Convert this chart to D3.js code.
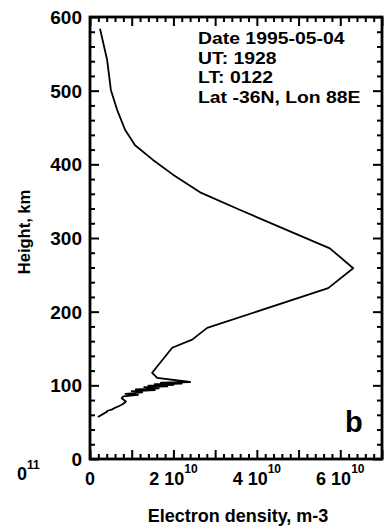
<!DOCTYPE html>
<html><head><meta charset="utf-8">
<script src="https://cdn.jsdelivr.net/npm/d3@7"></script>
<style>
html,body{margin:0;padding:0;background:#fff;}
svg{display:block;font-family:"Liberation Sans",Arial,Helvetica,sans-serif;}
</style></head>
<body><svg id="c" width="385" height="528"></svg>
<script>
// Electron density in units of 1e10 m^-3, height in km
const density = [0.24,0.41,0.50,0.65,0.84,1.08,1.51,1.99,2.64,3.60,5.75,6.31,5.71,2.81,2.45,1.97,1.49,1.61,
  2.40,1.70,2.20,1.55,2.00,1.40,1.85,1.30,1.65,1.10,1.55,1.00,1.25,0.85,1.15,0.80,0.76,0.86,0.80,0.70,0.58,0.52,0.42,0.40,0.19];
const height = [584,542,501,474,447,426,406,386,362,338,286,259,232,178,162,151,117,110,
  104.5,103.5,102.5,101.5,100.5,99.5,98.5,97.5,96,94.5,93.5,92,90.5,88.5,87,85,82.5,78,75,72,69,67,65.5,64,57];
const xLabelValues = [0, 2, 4, 6];
const xLabelMain = ["0", "2 10", "4 10", "6 10"];
const xLabelSup = ["", "10", "10", "10"];
const yLabelValues = [0, 100, 200, 300, 400, 500, 600];
const infoLines = ["Date 1995-05-04", "UT: 1928", "LT: 0122", "Lat -36N, Lon 88E"];
const panelLetter = "b";
const xTitle = "Electron density, m-3";
const yTitle = "Height, km";

const L = 90, R = 382, T = 17, B = 459;
const x = d3.scaleLinear().domain([0, 7]).range([L, R]);
const y = d3.scaleLinear().domain([0, 600]).range([B, T]);
const svg = d3.select("#c");

const xMajor = d3.range(0, 7.001, 1);
const xMinor = d3.range(0, 7.001, 0.2).filter(v => Math.abs(v - Math.round(v)) > 1e-6);
const yMajor = d3.range(0, 600.1, 100);
const yMinor = d3.range(0, 600.1, 20).filter(v => v % 100 !== 0);

function styleAxis(g){
  g.select(".domain").remove();
  g.selectAll("line").attr("stroke","#000").attr("stroke-width",2);
  g.selectAll("text").remove();
}
svg.append("g").attr("transform",`translate(0,${B})`).call(d3.axisBottom(x).tickValues(xMajor).tickSize(-9)).call(styleAxis);
svg.append("g").attr("transform",`translate(0,${B})`).call(d3.axisBottom(x).tickValues(xMinor).tickSize(-5)).call(styleAxis);
svg.append("g").attr("transform",`translate(0,${T})`).call(d3.axisTop(x).tickValues(xMajor).tickSize(-9)).call(styleAxis);
svg.append("g").attr("transform",`translate(0,${T})`).call(d3.axisTop(x).tickValues(xMinor).tickSize(-5)).call(styleAxis);
svg.append("g").attr("transform",`translate(${L},0)`).call(d3.axisLeft(y).tickValues(yMajor).tickSize(-9)).call(styleAxis);
svg.append("g").attr("transform",`translate(${L},0)`).call(d3.axisLeft(y).tickValues(yMinor).tickSize(-5)).call(styleAxis);
svg.append("g").attr("transform",`translate(${R},0)`).call(d3.axisRight(y).tickValues(yMajor).tickSize(-9)).call(styleAxis);
svg.append("g").attr("transform",`translate(${R},0)`).call(d3.axisRight(y).tickValues(yMinor).tickSize(-5)).call(styleAxis);

svg.append("rect").attr("x",L).attr("y",T).attr("width",R-L).attr("height",B-T)
  .attr("fill","none").attr("stroke","#000").attr("stroke-width",2.8);

svg.append("g").selectAll("text").data(yLabelValues).join("text")
  .attr("x", L - 8).attr("y", d => y(d)).attr("dy","0.36em")
  .attr("text-anchor","end").attr("font-size",19).attr("font-weight","bold").text(d => d);

const xl = svg.append("g").selectAll("text").data(xLabelValues).join("text")
  .attr("x", (d) => x(d)).attr("y", 485).attr("text-anchor","middle")
  .attr("font-size",18).attr("font-weight","bold");
xl.each(function(d,i){
  const t = d3.select(this);
  t.append("tspan").text(xLabelMain[i]);
  if (xLabelSup[i]) t.append("tspan").attr("font-size",12).attr("dy",-12).text(xLabelSup[i]);
});
const cl = svg.append("text").attr("x",17).attr("y",480).attr("font-size",18).attr("font-weight","bold");
cl.append("tspan").text("0");
cl.append("tspan").attr("font-size",12).attr("dy",-11).text("11");

svg.append("path").datum(density.map((d,i)=>[d,height[i]]))
  .attr("fill","none").attr("stroke","#000").attr("stroke-width",1.8).attr("stroke-linejoin","round")
  .attr("d", d3.line().x(d=>x(d[0])).y(d=>y(d[1])));

svg.append("g").attr("transform","translate(198,0) scale(1.14,1)")
  .selectAll("text").data(infoLines).join("text")
  .attr("x",0).attr("y",(d,i)=>44 + i*19.7).attr("font-size",17).attr("font-weight","bold").text(d=>d);

svg.append("text").attr("x",345).attr("y",432).attr("font-size",29).attr("font-weight","bold").text(panelLetter);

svg.append("text").attr("x",238).attr("y",522).attr("text-anchor","middle").attr("font-size",18).attr("font-weight","bold").text(xTitle);
svg.append("text").attr("transform","translate(30,232) rotate(-90)").attr("text-anchor","middle")
  .attr("font-size",16.5).attr("font-weight","bold").text(yTitle);
</script></body></html>
